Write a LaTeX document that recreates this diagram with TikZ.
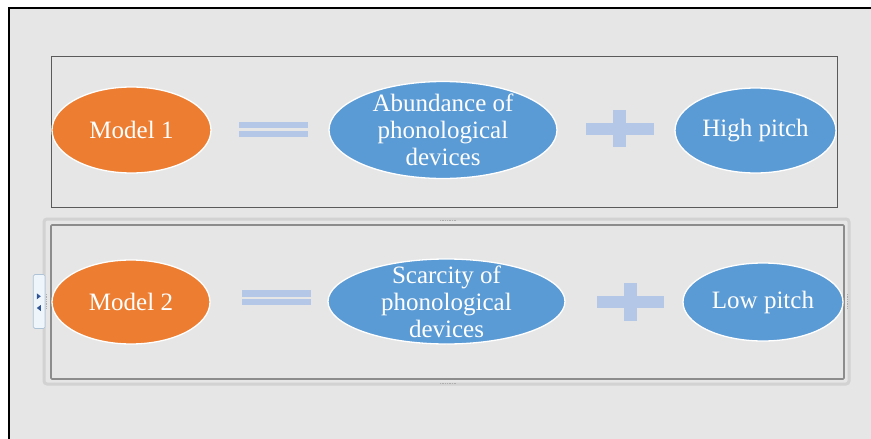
\documentclass[tikz,border=0pt]{standalone}
\usepackage{fontspec}
\setmainfont{Liberation Serif}
\usetikzlibrary{shapes.geometric}
\definecolor{bg}{HTML}{E6E6E6}
\definecolor{orangeM}{HTML}{ED7D31}
\definecolor{blueM}{HTML}{5B9BD5}
\definecolor{symc}{HTML}{B4C7E7}
\definecolor{boxdark}{HTML}{5A5A5A}
\definecolor{selgray}{HTML}{8C8C8C}
\definecolor{sellight}{HTML}{D2D2D2}
\definecolor{tabfill}{HTML}{EEF6FC}
\definecolor{tabdraw}{HTML}{AFC3D6}
\definecolor{tabtri}{HTML}{2F5597}
\tikzset{
  oval/.style={ellipse, draw=white, line width=1.3pt, inner xsep=0pt, inner ysep=-20pt,
    text=white, align=center, font=\fontsize{25}{27}\selectfont},
  orangeoval/.style={oval, fill=orangeM},
  blueoval/.style={oval, fill=blueM},
  symbar/.style={rectangle, fill=symc, draw=none, inner sep=0pt},
  handle/.style={selgray!70, line width=0.8pt, dash pattern=on 0.8pt off 0.9pt}
}
\begin{document}
\begin{tikzpicture}[x=1pt,y=-1pt]
\useasboundingbox (0,0) rectangle (871,439);
\clip (0,0) rectangle (871,439);
\fill[white] (0,0) rectangle (871,439);
\fill[bg] (9,8) rectangle (900,470);
\draw[line width=2pt] (9,470) -- (9,8) -- (900,8);

% ---- top frame ----
\draw[boxdark, line width=1pt] (51,56) rectangle (837,207);

\node[orangeoval, minimum width=159, minimum height=86] (m1) at (131.5,130) {Model 1};
\node[symbar, minimum width=69, minimum height=6] (eq1a) at (273.5,124.5) {};
\node[symbar, minimum width=69, minimum height=6] (eq1b) at (273.5,134) {};
\node[blueoval, minimum width=228, minimum height=97] (a1) at (443,130) {Abundance of\\phonological\\devices};
\node[symbar, minimum width=68, minimum height=12] (p1h) at (620,129) {};
\node[symbar, minimum width=13, minimum height=37] (p1v) at (619.5,128.5) {};
\node[blueoval, minimum width=161, minimum height=85] (h1) at (755.5,130.5) {High pitch};

% ---- bottom frame (selected) ----
\draw[sellight, line width=3pt, rounded corners=3pt] (44,219) rectangle (849,384);
\draw[selgray, line width=1.6pt, rounded corners=1pt] (51,225) rectangle (844,379);
\draw[handle] (440,220.5) -- (456,220.5);
\draw[handle] (440,383) -- (456,383);
\draw[handle] (46.5,294) -- (46.5,308);
\draw[handle] (847.5,294) -- (847.5,308);
% side tab
\draw[tabdraw, fill=tabfill, line width=0.7pt, rounded corners=1.5pt] (33.3,274.5) rectangle (45,328.5);
\fill[tabtri] (36.8,293.3) -- (40.8,296.3) -- (36.8,299.3) -- cycle;
\fill[tabtri] (40.8,305) -- (36.8,308) -- (40.8,311) -- cycle;

\node[orangeoval, minimum width=158, minimum height=84] (m2) at (131,302) {Model 2};
\node[symbar, minimum width=69, minimum height=6.5] (eq2a) at (276.5,293.3) {};
\node[symbar, minimum width=69, minimum height=6] (eq2b) at (276.5,302.3) {};
\node[blueoval, minimum width=237, minimum height=85] (s2) at (446.5,301.5) {Scarcity of\\phonological\\devices};
\node[symbar, minimum width=67, minimum height=12] (p2h) at (630.5,302) {};
\node[symbar, minimum width=13, minimum height=38] (p2v) at (630.5,302) {};
\node[blueoval, minimum width=160, minimum height=78] (l2) at (763,302) {Low pitch};
\end{tikzpicture}
\end{document}
